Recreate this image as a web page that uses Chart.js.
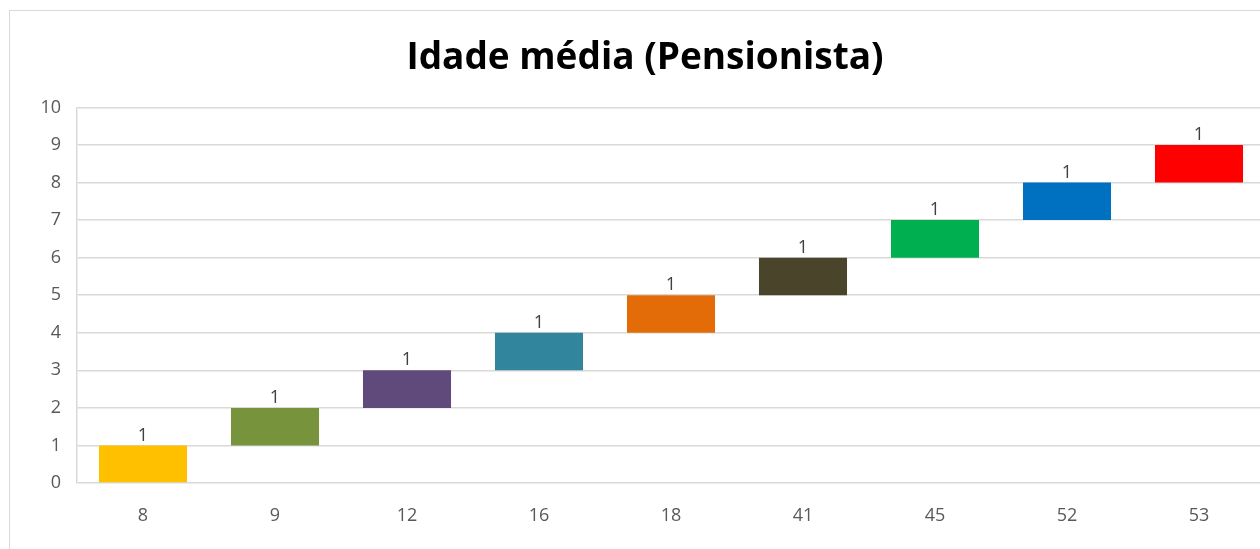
<!DOCTYPE html>
<html>
<head>
<meta charset="utf-8">
<script src="https://cdn.jsdelivr.net/npm/chart.js@4.4.0/dist/chart.umd.min.js"></script>
<style>
  html, body { margin: 0; padding: 0; background: #fff; overflow: hidden; }
  #frame {
    position: absolute; left: 9px; top: 10px;
    width: 1284px; height: 560px;
    border: 1px solid #d9d9d9; box-sizing: border-box;
  }
  #wrap { position: absolute; left: 1px; top: 1px; width: 1282px; height: 538px; }
</style>
</head>
<body>
<div id="frame"><div id="wrap"><canvas id="chart"></canvas></div></div>
<script>
// --- chart data ---
const categories = ['8', '9', '12', '16', '18', '41', '45', '52', '53'];
const baseValues = [0, 1, 2, 3, 4, 5, 6, 7, 8];   // where each step starts
const counts = [1, 1, 1, 1, 1, 1, 1, 1, 1];       // height of each step
const barColors = ['#FFC000', '#77933C', '#604A7B', '#31859C', '#E36C09',
                   '#4A452A', '#00B050', '#0070C0', '#FF0000'];
const yTicks = [0, 1, 2, 3, 4, 5, 6, 7, 8, 9, 10];

const font = "'Open Sans', 'Liberation Sans', sans-serif";

// labels above each floating bar
const valueLabels = {
  id: 'valueLabels',
  afterDatasetsDraw(chart) {
    const ctx = chart.ctx;
    const meta = chart.getDatasetMeta(0);
    ctx.save();
    ctx.font = '18px ' + font;
    ctx.fillStyle = '#404040';
    ctx.textAlign = 'center';
    ctx.textBaseline = 'bottom';
    meta.data.forEach((bar, i) => {
      ctx.fillText(String(counts[i]), bar.x, bar.y - 1);
    });
    ctx.restore();
  }
};

new Chart(document.getElementById('chart'), {
  type: 'bar',
  data: {
    labels: categories,
    datasets: [{
      data: baseValues.map((b, i) => [b, b + counts[i]]),
      backgroundColor: barColors,
      borderWidth: 0,
      barPercentage: 1,
      categoryPercentage: 0.667
    }]
  },
  options: {
    responsive: true,
    maintainAspectRatio: false,
    animation: false,
    layout: { padding: { left: 14, right: 28, top: 0, bottom: 0 } },
    plugins: {
      legend: { display: false },
      tooltip: { enabled: false },
      title: {
        display: true,
        text: 'Idade média (Pensionista)',
        color: '#000',
        font: { family: font, size: 37, weight: 'bold' },
        padding: { top: 24, bottom: 27 }
      }
    },
    scales: {
      x: {
        grid: { display: false },
        border: { display: false },
        ticks: { color: '#595959', font: { family: font, size: 18 }, padding: 14 },
        afterFit(scale) { scale.height = 67; }
      },
      y: {
        min: 0, max: 10,
        afterBuildTicks(scale) { scale.ticks = yTicks.map(v => ({ value: v })); },
        grid: { color: '#d9d9d9', lineWidth: 1.5, drawTicks: false },
        border: { display: true, color: '#d9d9d9', width: 1.5 },
        ticks: { color: '#595959', font: { family: font, size: 18 }, padding: 16 },
        afterFit(scale) { scale.width = 52; }
      }
    }
  },
  plugins: [valueLabels]
});
</script>
</body>
</html>
